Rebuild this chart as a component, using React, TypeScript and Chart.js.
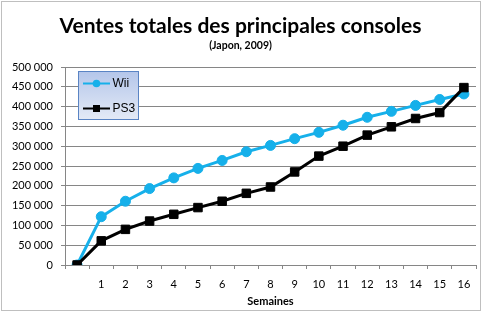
import React, { useEffect, useRef } from 'react';
import { Chart, registerables } from 'chart.js';

Chart.register(...registerables);

const weeks = ['', '1', '2', '3', '4', '5', '6', '7', '8', '9', '10', '11', '12', '13', '14', '15', '16'];
const wiiSales = [0, 122000, 161000, 193000, 220000, 244000, 264000, 286000, 302000, 319000, 335000, 353000, 373000, 388000, 403000, 418000, 432000];
const ps3Sales = [0, 61000, 90000, 111000, 128000, 145000, 161000, 181000, 197000, 235000, 275000, 300000, 328000, 349000, 370000, 385000, 448000];
const seriesNames = ['Wii', 'PS3'];
const seriesColors = ['#16b0ea', '#000000'];
const yMin = 0;
const yMax = 500000;
const yStep = 50000;
const chartTitle = 'Ventes totales des principales consoles';
const chartSubtitle = '(Japon, 2009)';
const xAxisTitle = 'Semaines';

const FONT = 'Lato, "Open Sans", sans-serif';

const formatThousands = (v: number) => String(v).replace(/\B(?=(\d{3})+(?!\d))/g, ' ');

const decorPlugin = {
  id: 'decor',
  beforeDraw(chart: any) {
    const { ctx, width, height } = chart;
    ctx.save();
    ctx.fillStyle = '#ffffff';
    ctx.fillRect(0, 0, width, height);
    ctx.strokeStyle = '#bfbfbf';
    ctx.lineWidth = 1;
    ctx.strokeRect(1.5, 1.5, width - 4, height - 3);
    ctx.restore();
  },
  afterDraw(chart: any) {
    const { ctx } = chart;
    ctx.save();
    ctx.fillStyle = '#000000';
    ctx.textAlign = 'center';
    ctx.textBaseline = 'alphabetic';
    ctx.font = `bold 21px ${FONT}`;
    ctx.fillText(chartTitle, 240.5, 33);
    ctx.font = `bold 10.5px ${FONT}`;
    ctx.fillText(chartSubtitle, 240.5, 49);

    // legend
    const bx = 78.5, by = 71.5, bw = 60, bh = 48;
    const grad = ctx.createLinearGradient(0, by, 0, by + bh);
    grad.addColorStop(0, '#b4c6ea');
    grad.addColorStop(1, '#e4eaf6');
    ctx.fillStyle = grad;
    ctx.fillRect(bx, by, bw, bh);
    ctx.strokeStyle = '#5a84c4';
    ctx.lineWidth = 1;
    ctx.strokeRect(bx, by, bw, bh);

    const rows = [83.5, 108.5];
    chart.data.datasets.forEach((ds: any, i: number) => {
      const y = rows[i];
      ctx.strokeStyle = ds.borderColor;
      ctx.lineWidth = 2;
      ctx.beginPath();
      ctx.moveTo(83, y);
      ctx.lineTo(110, y);
      ctx.stroke();
      ctx.fillStyle = ds.borderColor;
      if (ds.pointStyle === 'rect') {
        ctx.fillRect(96.5 - 3.5, y - 3.5, 7, 7);
      } else {
        ctx.beginPath();
        ctx.arc(96.5, y, 3.8, 0, Math.PI * 2);
        ctx.fill();
      }
      ctx.fillStyle = '#000000';
      ctx.font = `12px "Liberation Sans", Arial, sans-serif`;
      ctx.textAlign = 'left';
      ctx.textBaseline = 'middle';
      ctx.fillText(ds.label, 112.5, y + 0.5);
    });
    ctx.restore();
  },
};

export default function App() {
  const canvasRef = useRef<HTMLCanvasElement | null>(null);

  useEffect(() => {
    const canvas = canvasRef.current;
    if (!canvas) return;
    const gridColor = '#868686';
    const chart = new Chart(canvas, {
      type: 'line',
      data: {
        labels: weeks,
        datasets: [
          {
            label: seriesNames[0],
            data: wiiSales,
            borderColor: seriesColors[0],
            backgroundColor: seriesColors[0],
            pointBackgroundColor: seriesColors[0],
            pointBorderColor: seriesColors[0],
            borderWidth: 3,
            pointRadius: 5,
            pointBorderWidth: 1,
            pointStyle: 'circle',
            tension: 0,
            order: 1,
          },
          {
            label: seriesNames[1],
            data: ps3Sales,
            borderColor: seriesColors[1],
            backgroundColor: seriesColors[1],
            pointBackgroundColor: seriesColors[1],
            pointBorderColor: seriesColors[1],
            borderWidth: 3,
            pointRadius: 6,
            pointBorderWidth: 1,
            pointStyle: 'rect',
            tension: 0,
            order: 0,
          },
        ],
      },
      options: {
        responsive: false,
        animation: false,
        devicePixelRatio: 1,
        layout: { padding: { top: 67, right: 4, bottom: 0, left: 0 } },
        plugins: {
          legend: { display: false },
          title: { display: false },
          tooltip: { enabled: false },
        },
        scales: {
          x: {
            type: 'category',
            offset: true,
            afterFit(scale: any) {
              scale.height = 47;
            },
            grid: {
              offset: true,
              drawOnChartArea: false,
              drawTicks: true,
              tickLength: 4,
              color: gridColor,
            },
            border: { color: gridColor },
            ticks: {
              color: '#000000',
              padding: 9,
              maxRotation: 0,
              autoSkip: false,
              font: { family: FONT, size: 11 },
            },
            title: {
              display: true,
              text: xAxisTitle,
              color: '#000000',
              font: { family: FONT, size: 11, weight: 'bold' },
              padding: { top: 0, bottom: 4 },
            },
          },
          y: {
            min: yMin,
            max: yMax,
            afterFit(scale: any) {
              scale.width = 65;
            },
            grid: {
              color: gridColor,
              tickLength: 4,
            },
            border: { color: gridColor },
            ticks: {
              stepSize: yStep,
              color: '#000000',
              padding: 8,
              font: { family: FONT, size: 11 },
              callback: (v: any) => formatThousands(Number(v)),
            },
          },
        },
      },
      plugins: [decorPlugin],
    } as any);
    return () => chart.destroy();
  }, []);

  return (
    <div style={{ position: 'absolute', left: 0, top: 0, width: 483, height: 312 }}>
      <canvas ref={canvasRef} width={483} height={312} style={{ width: 483, height: 312, display: 'block' }} />
    </div>
  );
}
